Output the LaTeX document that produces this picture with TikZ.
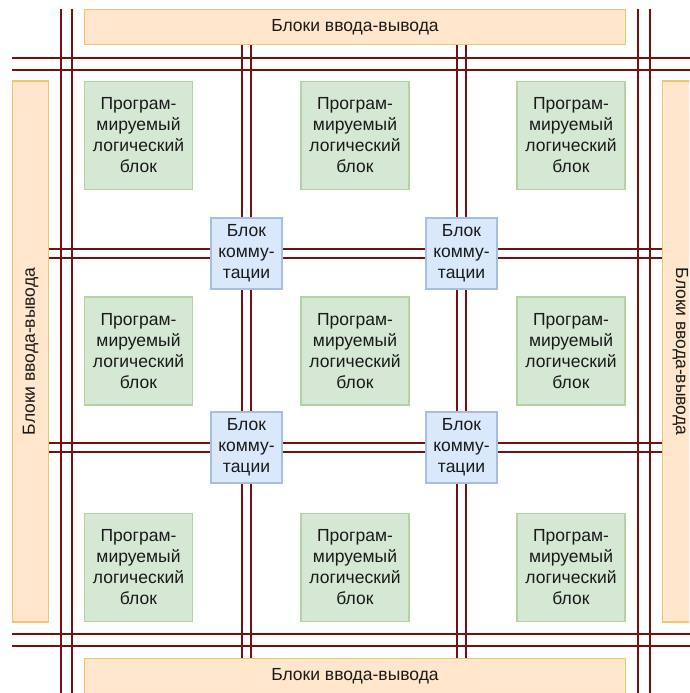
\documentclass[tikz,border=0pt]{standalone}
\usepackage{fontspec}
\setmainfont{Liberation Sans}
\usetikzlibrary{backgrounds}
\definecolor{bus}{HTML}{751010}
\definecolor{iofill}{HTML}{FFE6CC}
\definecolor{iodraw}{HTML}{EFC66E}
\definecolor{plfill}{HTML}{D5E8D4}
\definecolor{pldraw}{HTML}{B3D3A3}
\definecolor{swfill}{HTML}{DAE8FC}
\definecolor{swdraw}{HTML}{A7BEE0}
\definecolor{txt}{HTML}{1A1A1A}
\tikzset{
  iobox/.style={draw=iodraw, fill=iofill, line width=1.5pt, inner sep=0pt, text=txt, font=\fontsize{17.5}{21}\selectfont},
  plbox/.style={draw=pldraw, fill=plfill, line width=1.5pt, minimum width=108pt, minimum height=108pt, inner sep=0pt, align=center, text=txt, font=\fontsize{17.5}{21}\selectfont},
  swbox/.style={draw=swdraw, fill=swfill, line width=1.5pt, minimum width=71pt, minimum height=71pt, inner sep=0pt, align=center, text=txt, font=\fontsize{17.5}{21}\selectfont},
  busline/.style={draw=bus, line width=2.8pt}
}
\begin{document}
\begin{tikzpicture}[x=1pt,y=-1pt]
\useasboundingbox (0,0) rectangle (689,693);
\begin{scope}
\clip (0,0) rectangle (689,693);
% I/O blocks
\node[iobox, minimum width=541pt, minimum height=35pt] (iotop) at (355,27) {Блоки ввода-вывода};
\node[iobox, minimum width=541pt, minimum height=35pt] (iobot) at (355,676) {Блоки ввода-вывода};
\node[iobox, minimum width=541pt, minimum height=36pt, rotate=90] (ioleft) at (30.5,351.5) {Блоки ввода-вывода};
\node[iobox, minimum width=541pt, minimum height=36pt, rotate=-90] (ioright) at (680.5,351.5) {Блоки ввода-вывода};
% programmable logic blocks
\foreach \c/\x in {1/138.5, 2/355, 3/571}{
  \foreach \r/\y in {1/135.5, 2/351, 3/567.5}{
    \node[plbox] (pl\r\c) at (\x,\y) {Програм-\\мируемый\\логический\\блок};
  }
}
% switch blocks
\node[swbox] (sw11) at (246.5,253.5) {Блок\\комму-\\тации};
\node[swbox] (sw12) at (461.5,253.5) {Блок\\комму-\\тации};
\node[swbox] (sw21) at (246.5,447.5) {Блок\\комму-\\тации};
\node[swbox] (sw22) at (461.5,447.5) {Блок\\комму-\\тации};
% line positions
\coordinate (vA1) at (61,0); \coordinate (vA2) at (72,0);
\coordinate (vB1) at (242,0); \coordinate (vB2) at (251,0);
\coordinate (vC1) at (457,0); \coordinate (vC2) at (466,0);
\coordinate (vD1) at (638,0); \coordinate (vD2) at (650,0);
\coordinate (hA1) at (0,58); \coordinate (hA2) at (0,70);
\coordinate (hB1) at (0,249); \coordinate (hB2) at (0,258);
\coordinate (hC1) at (0,443); \coordinate (hC2) at (0,452);
\coordinate (hD1) at (0,634); \coordinate (hD2) at (0,646);
\begin{scope}[on background layer]
  \foreach \v in {vA1,vA2,vD1,vD2}{
    \draw[busline] (iotop.north -| \v) -- (iobot.south -| \v);
  }
  \foreach \v in {vB1,vB2,vC1,vC2}{
    \draw[busline] (iotop.south -| \v) -- (iobot.north -| \v);
  }
  \foreach \h in {hA1,hA2,hD1,hD2}{
    \draw[busline] (ioleft.north |- \h) -- (ioright.north |- \h);
  }
  \foreach \h in {hB1,hB2,hC1,hC2}{
    \draw[busline] (ioleft.south |- \h) -- (ioright.south |- \h);
  }
\end{scope}
\end{scope}
\end{tikzpicture}
\end{document}
